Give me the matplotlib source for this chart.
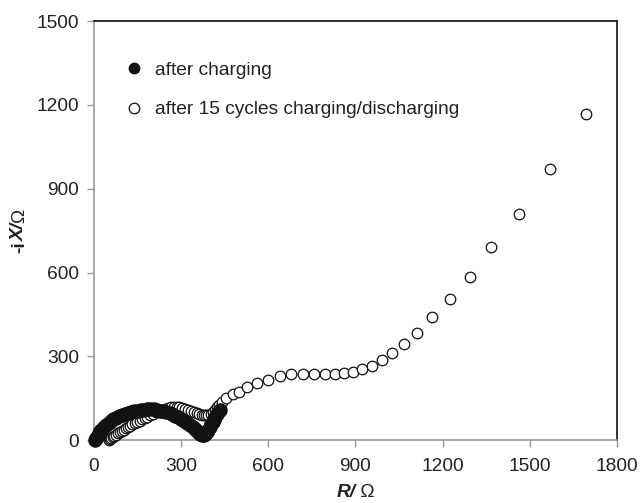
import matplotlib.pyplot as plt

plt.rcParams['font.family'] = ['Liberation Sans', 'DejaVu Sans']

# after charging (filled)
r_charged = [5, 8, 12, 17, 22, 28, 35, 42, 50, 58, 67, 76, 86, 96, 106, 117, 128, 139,
             150, 161, 172, 183, 194, 205, 216, 227, 238, 249, 260, 270, 280, 290, 300,
             310, 320, 330, 339, 347, 354, 360, 366, 372, 378, 383, 388, 393, 398, 403,
             408, 413, 418, 423, 428, 433]
x_charged = [0, 8, 16, 24, 32, 40, 48, 55, 62, 68, 74, 80, 85, 90, 94, 98, 101, 104,
             106, 108, 109, 110, 110, 110, 108, 106, 104, 100, 96, 92, 87, 81, 76,
             69, 62, 54, 46, 39, 32, 27, 22, 19, 18, 22, 30, 38, 47, 56,
             65, 74, 83, 92, 100, 108]

# after 15 cycles charging/discharging (open)
r_cycled = [52, 56, 60, 65, 70, 76, 82, 88, 95, 102, 109, 116, 124, 132, 140, 148, 157,
            166, 175, 184, 194, 204, 214, 224, 234, 244, 254, 264, 274, 284, 294, 304,
            314, 324, 334, 344, 354, 362, 370, 378, 386, 394, 401, 408, 415, 422, 429,
            439, 456, 477, 500, 527, 560, 599, 639, 679, 719, 758, 796, 830, 862, 893,
            924, 956, 992, 1027, 1066, 1112, 1165, 1225, 1293, 1367, 1463, 1569, 1692]
x_cycled = [0, 4, 8, 12, 16, 20, 24, 28, 32, 37, 42, 47, 52, 56, 61, 65, 70,
            75, 80, 84, 89, 94, 99, 104, 108, 112, 115, 117, 118, 118, 117, 115,
            112, 108, 104, 100, 96, 93, 91, 90, 90, 91, 95, 101, 109, 117, 126,
            138, 151, 164, 174, 189, 203, 216, 228, 235, 237, 237, 236, 236, 239, 243,
            253, 267, 286, 311, 345, 385, 439, 505, 585, 692, 811, 970, 1166]

xticks = [0, 300, 600, 900, 1200, 1500, 1800]
yticks = [0, 300, 600, 900, 1200, 1500]

txt = '#222222'
fs = 13.8

fig = plt.figure(figsize=(6.44, 5.03), dpi=100)
ax = fig.add_axes([0.146, 0.125, 0.812, 0.833])

ax.plot(r_charged, x_charged, 'o', color='#111111', mec='#111111', ms=9.5, mew=0.9,
        label='after charging', clip_on=False, zorder=4)
ax.plot(r_cycled, x_cycled, 'o', mfc='white', mec='#111111', ms=7.6, mew=0.9,
        label='after 15 cycles charging/discharging', clip_on=False, zorder=3)

ax.set_xlim(0, 1800)
ax.set_ylim(0, 1500)
ax.set_xticks(xticks)
ax.set_yticks(yticks)
ax.tick_params(direction='out', length=5, width=1, color='#999999',
               labelsize=fs, labelcolor=txt)
ax.tick_params(axis='x', pad=8)
ax.tick_params(axis='y', pad=6)
for s in ['left', 'bottom']:
    ax.spines[s].set_color('#999999')
    ax.spines[s].set_linewidth(1.2)
for s in ['top', 'right']:
    ax.spines[s].set_color('#111111')
    ax.spines[s].set_linewidth(1.2)

# x label: bold italic symbol + plain unit
ax.text(0.5, -0.105, 'R/', transform=ax.transAxes, ha='right', va='top',
        fontsize=fs, fontweight='bold', fontstyle='italic', color=txt)
ax.text(0.5, -0.105, ' Ω', transform=ax.transAxes, ha='left', va='top',
        fontsize=fs, color=txt)

# y label pieces stacked bottom to top, measured so they join up
pieces = [('-i', 'bold', 'normal'), ('X/', 'bold', 'italic'), ('Ω', 'normal', 'normal')]
objs = [fig.text(0.03, 0, p, rotation=90, ha='center', va='bottom', fontsize=fs,
                 fontweight=w, fontstyle=st, color=txt) for p, w, st in pieces]
fig.canvas.draw()
r = fig.canvas.get_renderer()
lens = [o.get_window_extent(r).height for o in objs]
H = fig.bbox.height
y = 0.5415 * H - sum(lens) / 2
for o, L in zip(objs, lens):
    o.set_y(y / H)
    y += L

leg = ax.legend(loc='upper left', bbox_to_anchor=(0.04, 0.922), frameon=False,
                borderaxespad=0, borderpad=0.4, handlelength=1.2, handletextpad=0.5,
                labelspacing=1.15, numpoints=1, fontsize=fs)
for h in leg.legend_handles:
    h.set_markersize(7.6)
for t in leg.get_texts():
    t.set_color(txt)

fig.savefig('out.png', dpi=100)
